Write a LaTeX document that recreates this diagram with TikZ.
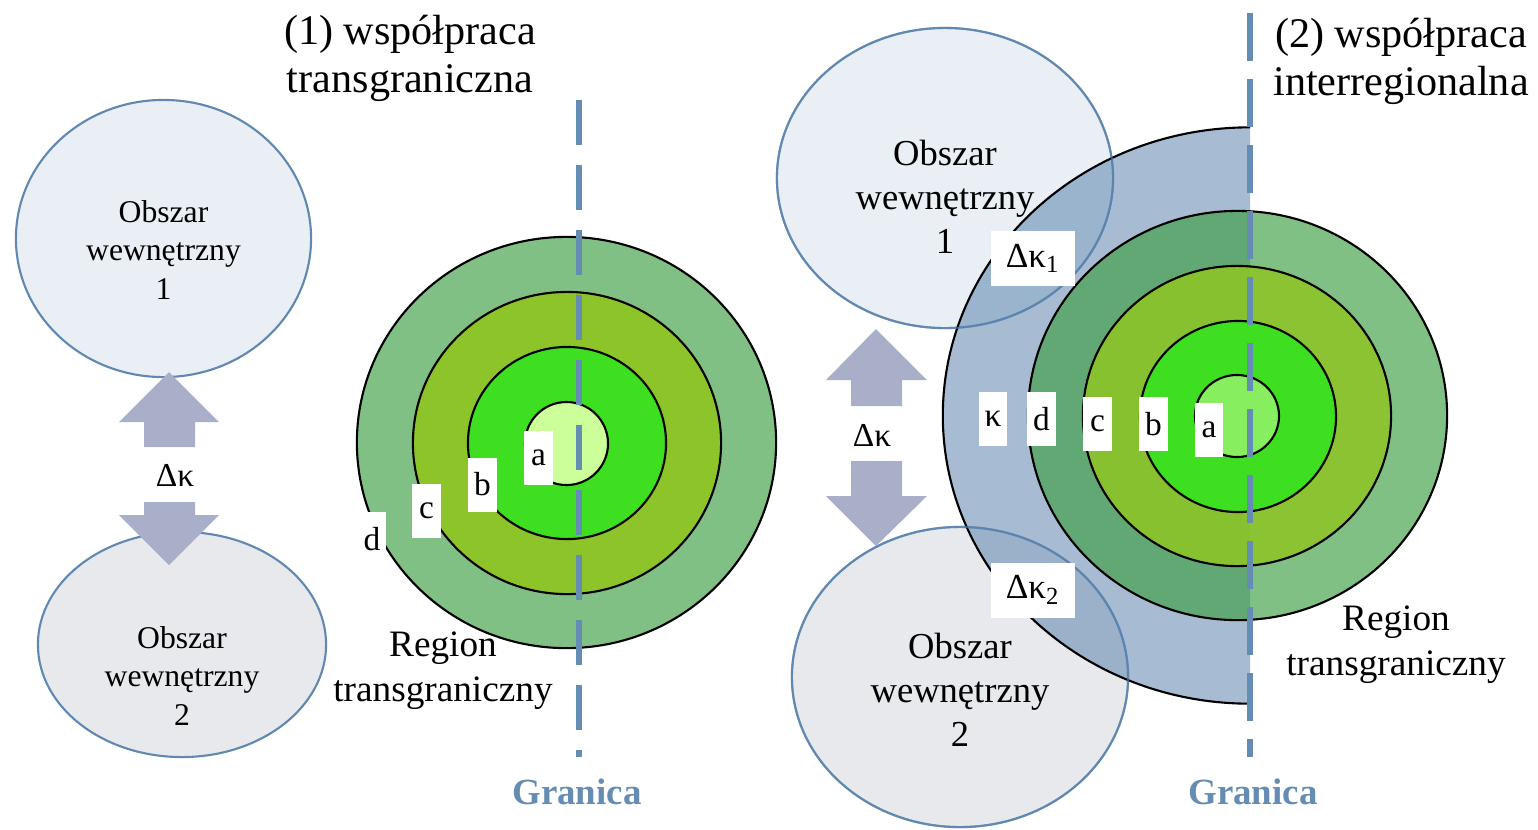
\documentclass[tikz,border=0pt]{standalone}
\usepackage{fontspec}
\setmainfont{Liberation Serif}
\definecolor{granica}{RGB}{101,140,178}
\definecolor{obszarA}{RGB}{233,239,244}
\definecolor{obszarB}{RGB}{232,233,236}
\definecolor{obrys}{RGB}{96,136,176}
\definecolor{strzalka}{RGB}{169,174,201}
\definecolor{zielD}{RGB}{60,158,66}
\definecolor{zielC}{RGB}{141,196,42}
\definecolor{zielB}{RGB}{62,222,33}
\definecolor{zielA}{RGB}{204,255,153}
\definecolor{zielAA}{RGB}{135,238,95}
\definecolor{niebieski}{RGB}{79,122,168}

\begin{document}
\begin{tikzpicture}[x=0.01cm,y=-0.01cm,
	obszar/.style={draw=obrys,line width=0.6pt},
	ring/.style={draw=black,line width=0.6pt},
	granicaline/.style={draw=granica,line width=1.45pt},
	litera/.style={fill=white,inner sep=0pt,minimum width=0.28cm,minimum height=0.54cm,font=\fontsize{9.5}{11}\selectfont},
	delta/.style={fill=white,inner sep=0pt,minimum width=0.84cm,minimum height=0.55cm,font=\fontsize{10}{12}\selectfont},
	tytul/.style={align=center,inner sep=0pt,font=\fontsize{12}{13.7}\selectfont},
	opis/.style={align=center,inner sep=0pt,font=\fontsize{10.6}{12.8}\selectfont},
	granicatxt/.style={inner sep=0pt,text=granica,font=\bfseries\fontsize{10.5}{12}\selectfont}]
	\useasboundingbox (0,0) rectangle (1538,829);

	% (1) lewa strona
	\draw[obszar,fill=obszarA] (163.5,238.5) ellipse [x radius=1.475cm,y radius=1.385cm];
	\draw[obszar,fill=obszarB] (182,644.5) ellipse [x radius=1.44cm,y radius=1.125cm];

	\fill[strzalka] (169,372)--(219,422)--(195,422)--(195,447)--(144,447)--(144,422)--(119,422)--cycle;
	\fill[strzalka] (169,565)--(219,515)--(195,515)--(195,502)--(144,502)--(144,515)--(119,515)--cycle;

	\draw[ring,fill=zielD,fill opacity=0.65] (566.5,442.5) ellipse [x radius=2.095cm,y radius=2.055cm];
	\draw[ring,fill=zielC] (567,443) ellipse [x radius=1.54cm,y radius=1.51cm];
	\draw[ring,fill=zielB] (567,443) ellipse [x radius=0.99cm,y radius=0.96cm];
	\draw[ring,fill=zielA] (566.5,443.5) ellipse [x radius=0.415cm,y radius=0.415cm];

	\coordinate (g1top) at (579,100);
	\coordinate (g1bot) at (579,757);
	\draw[granicaline,dash pattern=on 0.45cm off 0.2cm] (g1top)--(g1bot);

	\node[litera] (la) at (538.5,457.5) {a};
	\node[litera] (lb) at (482.5,484.5) {b};
	\node[litera] (lc) at (426.5,511) {c};
	\node[litera] (ld) at (372,539) {d};

	\node[opis,font=\fontsize{9}{10.9}\selectfont] (ob1) at (163.5,250) {Obszar\\wewnętrzny\\1};
	\node[opis,font=\fontsize{9}{10.9}\selectfont] (ob2) at (182,676) {Obszar\\wewnętrzny\\2};
	\node[inner sep=0pt,font=\fontsize{9.5}{11}\selectfont] (dk) at (175,475) {Δκ};
	\node[opis] (reg1) at (443,671) {Region\\transgraniczny};
	\node[tytul] (tyt1) at (410,58) {(1) współpraca\\transgraniczna};
	\node[granicatxt] (gr1) at (577,792) {Granica};

	% (2) prawa strona
	\draw[obszar,fill=obszarA] (945,178) ellipse [x radius=1.68cm,y radius=1.5cm];
	\draw[obszar,fill=obszarB] (960,677) ellipse [x radius=1.68cm,y radius=1.5cm];

	\begin{scope}
		\clip (900,100) rectangle (1250,760);
		\draw[ring,fill=niebieski,fill opacity=0.5] (1250,415.5) ellipse [x radius=3.07cm,y radius=2.88cm];
	\end{scope}
	\draw[obrys,line width=0.6pt,opacity=0.6] (945,178) ellipse [x radius=1.68cm,y radius=1.5cm];
	\draw[obrys,line width=0.6pt,opacity=0.6] (960,677) ellipse [x radius=1.68cm,y radius=1.5cm];

	\fill[strzalka] (876,329)--(927,380)--(902,380)--(902,406)--(851,406)--(851,380)--(826,380)--cycle;
	\fill[strzalka] (876,546)--(927,496)--(902,496)--(902,461)--(851,461)--(851,496)--(826,496)--cycle;

	\draw[ring,fill=zielD,fill opacity=0.65] (1237.5,415.5) ellipse [x radius=2.095cm,y radius=2.045cm];
	\draw[ring,fill=zielC,fill opacity=0.9] (1237,416) ellipse [x radius=1.54cm,y radius=1.5cm];
	\draw[ring,fill=zielB] (1238,416.5) ellipse [x radius=0.98cm,y radius=0.955cm];
	\draw[ring,fill=zielAA] (1237,416) ellipse [x radius=0.42cm,y radius=0.41cm];

	\coordinate (g2top) at (1250,13);
	\coordinate (g2bot) at (1250,757);
	\draw[granicaline,dash pattern=on 0.48cm off 0.18cm] (g2top)--(g2bot);

	\node[litera] (rk) at (993,419) {κ};
	\node[litera] (rd) at (1041.5,419) {d};
	\node[litera] (rc) at (1097.5,424) {c};
	\node[litera] (rb) at (1153.5,424) {b};
	\node[litera] (ra) at (1209,429.5) {a};
	\node[delta] (dk1) at (1033,258.5) {Δκ\textsubscript{1}};
	\node[delta] (dk2) at (1033,590) {Δκ\textsubscript{2}};

	\node[opis,font=\fontsize{10.4}{12.5}\selectfont] (ob3) at (945,197) {Obszar\\wewnętrzny\\1};
	\node[opis,font=\fontsize{10.4}{12.5}\selectfont] (ob4) at (960,690) {Obszar\\wewnętrzny\\2};
	\node[inner sep=0pt,font=\fontsize{9.5}{11}\selectfont] (dkp) at (872,435) {Δκ};
	\node[opis] (reg2) at (1396,645) {Region\\transgraniczny};
	\node[tytul] (tyt2) at (1401,61) {(2) współpraca\\interregionalna};
	\node[granicatxt] (gr2) at (1253,792) {Granica};
\end{tikzpicture}
\end{document}
